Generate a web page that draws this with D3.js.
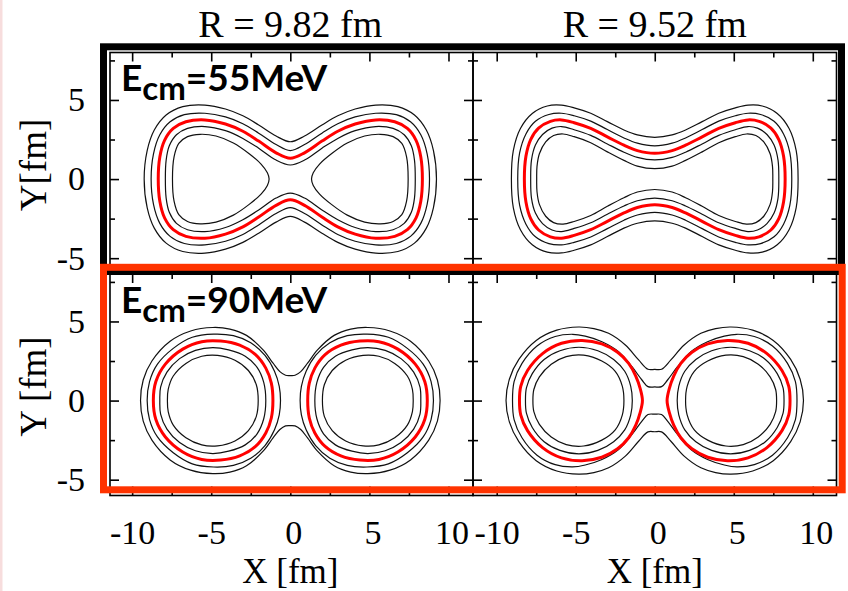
<!DOCTYPE html>
<html>
<head>
<meta charset="utf-8">
<script src="https://cdn.jsdelivr.net/npm/d3@7"></script>
<style>
  body { margin: 0; background: #fff; }
  svg { display: block; }
  .serif { font-family: "Liberation Serif", "Times New Roman", serif; }
</style>
</head>
<body>
<div id="chart"></div>
<script>

// Contour outlines, in fm, first quadrant only
// (every shape is mirror-symmetric in X and Y).
// "neck": one closed line round both nuclei, from (0, neck half-height) to (xmax, 0)
// "lobe": two separate rings, right ring from (inner x, 0) over the top to (outer x, 0)
// order of levels: outer black, black, red, black, inner black

const radii = ["R = 9.82 fm", "R = 9.52 fm"];
const energies = [55, 90];
const yTitles = ["Y[fm]", "Y [fm]"];
const xMajor = [-10, -5, 0, 5, 10];
const xMinor = [-7.5, -2.5, 2.5, 7.5];
const yMajor = [-5, 0, 5];
const yMinor = [-2.5, 2.5, 7.5];

const r982e55 = [
  { kind: "neck", pts: [[0,2.36],[0.9,2.72],[2.0,3.42],[3.0,4.0],[4.1,4.43],[5.4,4.68],[6.8,4.58],[7.85,4.05],[8.6,3.1],[9.05,1.8],[9.24,0]] },
  { kind: "neck", pts: [[0,1.8],[0.9,2.18],[2.0,2.9],[3.0,3.5],[4.1,3.93],[5.4,4.16],[6.7,4.07],[7.6,3.62],[8.25,2.8],[8.65,1.6],[8.8,0]] },
  { kind: "neck", pts: [[0,1.31],[0.9,1.66],[2.0,2.4],[3.0,3.02],[4.1,3.48],[5.4,3.74],[6.6,3.62],[7.4,3.2],[7.95,2.45],[8.25,1.4],[8.35,0]] },
  { kind: "neck", pts: [[0,0.89],[0.9,1.2],[2.0,1.95],[3.0,2.57],[4.1,3.06],[5.4,3.32],[6.5,3.2],[7.2,2.8],[7.65,2.1],[7.85,1.2],[7.9,0]] },
  { kind: "lobe", pts: [[1.34,0],[1.45,0.4],[1.85,0.95],[2.6,1.6],[3.6,2.28],[4.7,2.72],[5.7,2.83],[6.5,2.68],[7.05,2.25],[7.35,1.4],[7.45,0]] }
];

const r952e55 = [
  { kind: "neck", pts: [[0,2.64],[1.1,2.79],[1.95,3.1],[3.0,3.63],[4.05,4.16],[5.1,4.5],[5.9,4.67],[6.8,4.62],[7.75,4.15],[8.5,3.2],[8.95,1.8],[9.07,0]] },
  { kind: "neck", pts: [[0,2.1],[1.1,2.27],[1.95,2.6],[3.0,3.13],[4.05,3.66],[5.1,4.0],[5.9,4.16],[6.7,4.08],[7.55,3.65],[8.15,2.85],[8.55,1.65],[8.67,0]] },
  { kind: "neck", pts: [[0,1.63],[1.1,1.8],[1.95,2.14],[3.0,2.67],[4.05,3.2],[5.1,3.56],[5.9,3.74],[6.6,3.65],[7.35,3.22],[7.85,2.5],[8.15,1.45],[8.25,0]] },
  { kind: "neck", pts: [[0,1.21],[1.1,1.37],[1.95,1.7],[3.0,2.22],[4.05,2.76],[5.1,3.12],[5.9,3.32],[6.5,3.22],[7.1,2.82],[7.55,2.15],[7.8,1.2],[7.85,0]] },
  { kind: "neck", pts: [[0,0.66],[1.1,0.82],[1.95,1.18],[3.0,1.72],[4.05,2.3],[5.1,2.68],[5.8,2.85],[6.4,2.75],[6.9,2.35],[7.3,1.6],[7.45,0.8],[7.47,0]] }
];

const r982e90 = [
  { kind: "neck", pts: [[0,1.58],[0.3,1.6],[0.66,1.83],[1.09,2.36],[1.72,3.2],[2.77,4.12],[3.82,4.52],[4.9,4.62],[6.3,4.4],[7.6,3.75],[8.75,2.5],[9.3,1.3],[9.47,0]] },
  { kind: "lobe", pts: [[0.62,0],[0.7,0.9],[1.0,1.85],[1.6,2.85],[2.5,3.65],[3.6,4.1],[4.85,4.2],[6.2,4.0],[7.4,3.3],[8.4,2.3],[8.9,1.2],[9.05,0]] },
  { kind: "lobe", pts: [[1.1,0],[1.2,1.1],[1.55,2.05],[2.2,2.9],[3.2,3.5],[4.4,3.76],[5.6,3.72],[6.8,3.25],[7.9,2.3],[8.5,1.2],[8.66,0]] },
  { kind: "lobe", pts: [[1.55,0],[1.68,1.15],[2.1,2.1],[2.85,2.8],[3.9,3.2],[4.9,3.35],[6.0,3.17],[7.0,2.65],[7.8,1.8],[8.2,0.85],[8.25,0]] },
  { kind: "lobe", pts: [[2.03,0],[2.15,1.0],[2.65,1.9],[3.5,2.55],[4.6,2.86],[5.6,2.8],[6.6,2.35],[7.4,1.55],[7.72,0.7],[7.77,0]] }
];

const r952e90 = [
  { kind: "neck", pts: [[0,1.97],[0.43,1.98],[1.02,2.57],[1.86,3.51],[2.92,4.25],[3.85,4.55],[4.82,4.65],[6.2,4.45],[7.5,3.8],[8.6,2.6],[9.2,1.35],[9.41,0]] },
  { kind: "neck", pts: [[0,0.86],[0.43,0.88],[0.81,1.3],[1.44,2.14],[2.29,3.09],[3.34,3.72],[4.4,4.07],[5.2,4.19],[6.3,4.05],[7.45,3.45],[8.4,2.35],[8.9,1.2],[9.0,0]] },
  { kind: "lobe", pts: [[0.78,0],[0.92,0.75],[1.2,1.55],[1.65,2.35],[2.35,3.05],[3.35,3.58],[4.6,3.8],[5.9,3.62],[7.1,2.97],[8.05,1.9],[8.48,0.9],[8.56,0]] },
  { kind: "lobe", pts: [[1.42,0],[1.52,0.9],[1.9,1.85],[2.6,2.6],[3.6,3.15],[4.8,3.37],[6.0,3.15],[7.0,2.6],[7.75,1.7],[8.12,0.8],[8.18,0]] },
  { kind: "lobe", pts: [[1.95,0],[2.05,0.9],[2.5,1.85],[3.35,2.5],[4.5,2.87],[5.6,2.78],[6.55,2.3],[7.3,1.5],[7.65,0.7],[7.71,0]] }
];

const width = 848, height = 591;

const svg = d3.select("#chart").append("svg")
  .attr("width", width)
  .attr("height", height)
  .attr("viewBox", [0, 0, width, height]);

svg.append("rect").attr("width", width).attr("height", height).attr("fill", "#fff");
svg.append("rect").attr("x", 0).attr("width", 2.5).attr("height", height).attr("fill", "#f7dddd");

// Panels

const panels = [
  { row: 0, col: 0, data: r982e55 },
  { row: 0, col: 1, data: r952e55 },
  { row: 1, col: 0, data: r982e90 },
  { row: 1, col: 1, data: r952e90 }
];

const xScales = [
  d3.scaleLinear().domain([-11.4, 11.55]).range([110, 473]),
  d3.scaleLinear().domain([-11.5, 11.5]).range([473, 836.5])
];
const yScales = [
  d3.scaleLinear().domain([-6, 8]).range([274, 52.5]),
  d3.scaleLinear().domain([-6, 8]).range([495.5, 274])
];

// mirror a first-quadrant outline into full closed rings
function rings(c) {
  const q = c.pts;
  if (c.kind === "neck") {
    const lr = q.slice(0, -1).reverse().map(([x, y]) => [x, -y]);
    const ll = q.slice(1).map(([x, y]) => [-x, -y]);
    const ul = q.slice(1, -1).reverse().map(([x, y]) => [-x, y]);
    return [q.concat(lr, ll, ul)];
  }
  const right = q.concat(q.slice(1, -1).reverse().map(([x, y]) => [x, -y]));
  return [right, right.map(([x, y]) => [-x, y])];
}

panels.forEach(p => {

  const x = xScales[p.col];
  const y = yScales[p.row];
  const g = svg.append("g");

  const line = d3.line()
    .x(d => x(d[0]))
    .y(d => y(d[1]))
    .curve(d3.curveCatmullRomClosed.alpha(0.5));

  p.data.forEach((c, i) => {
    const isRed = i === 2;
    g.append("g")
      .selectAll("path")
      .data(rings(c))
      .join("path")
      .attr("d", line)
      .attr("fill", "none")
      .attr("stroke", isRed ? "#ff0000" : "#111")
      .attr("stroke-width", isRed ? 3 : 1.2);
  });

  // frame
  g.append("rect")
    .attr("x", x.range()[0])
    .attr("y", y.range()[1])
    .attr("width", x.range()[1] - x.range()[0])
    .attr("height", y.range()[0] - y.range()[1])
    .attr("fill", "none")
    .attr("stroke", "#000")
    .attr("stroke-width", 1.6);

  const showX = p.row === 1;
  const showY = p.col === 0;

  const addAxis = (axis, transform) => {
    return g.append("g")
      .attr("transform", transform)
      .call(axis)
      .call(a => a.select(".domain").remove())
      .call(a => a.selectAll(".tick line").attr("stroke", "#000").attr("stroke-width", 1.6))
      .call(a => a.selectAll(".tick text")
        .attr("class", "serif")
        .attr("font-size", 34)
        .attr("fill", "#000"));
  };

  const bottom = `translate(0,${y.range()[0]})`;
  const top = `translate(0,${y.range()[1]})`;
  const left = `translate(${x.range()[0]},0)`;
  const right = `translate(${x.range()[1]},0)`;

  addAxis(d3.axisBottom(x).tickValues(xMajor).tickSizeInner(-9).tickSizeOuter(0)
    .tickPadding(24).tickFormat(d => showX ? String(d) : ""), bottom)
    .selectAll(".tick text").attr("dx", d => d >= 0 ? 3 : 0);
  addAxis(d3.axisBottom(x).tickValues(xMinor).tickSizeInner(-5).tickSizeOuter(0).tickFormat(""), bottom);
  addAxis(d3.axisTop(x).tickValues(xMajor).tickSizeInner(-9).tickSizeOuter(0).tickFormat(""), top);
  addAxis(d3.axisTop(x).tickValues(xMinor).tickSizeInner(-5).tickSizeOuter(0).tickFormat(""), top);

  addAxis(d3.axisLeft(y).tickValues(yMajor).tickSizeInner(-9).tickSizeOuter(0)
    .tickPadding(25).tickFormat(d => showY ? String(d) : ""), left);
  addAxis(d3.axisLeft(y).tickValues(yMinor).tickSizeInner(-5).tickSizeOuter(0).tickFormat(""), left);
  addAxis(d3.axisRight(y).tickValues(yMajor).tickSizeInner(-9).tickSizeOuter(0).tickFormat(""), right);
  addAxis(d3.axisRight(y).tickValues(yMinor).tickSizeInner(-5).tickSizeOuter(0).tickFormat(""), right);
});

// Titles

radii.forEach((t, i) => {
  svg.append("text")
    .attr("class", "serif")
    .attr("x", xScales[i](0))
    .attr("y", 36.5)
    .attr("text-anchor", "middle")
    .attr("font-size", 38)
    .text(t);

  svg.append("text")
    .attr("class", "serif")
    .attr("x", xScales[i](0))
    .attr("y", 583)
    .attr("text-anchor", "middle")
    .attr("font-size", 35)
    .text("X [fm]");
});

yTitles.forEach((t, i) => {
  const cy = i === 0 ? 165 : 386.5;
  svg.append("text")
    .attr("class", "serif")
    .attr("transform", `translate(46,${cy}) rotate(-90)`)
    .attr("text-anchor", "middle")
    .attr("font-size", 37)
    .text(t);
});

energies.forEach((e, i) => {
  const t = svg.append("text")
    .attr("x", 121)
    .attr("y", i === 0 ? 90.5 : 313)
    .attr("font-family", "Lato, 'Open Sans', sans-serif")
    .attr("font-weight", 700)
    .attr("font-size", 37)
    .attr("fill", "#000");
  t.append("tspan").text("E");
  t.append("tspan").attr("dy", 9).attr("font-size", 33).text("cm");
  t.append("tspan").attr("dy", -9).text(`=${e}MeV`);
});

// Row borders

svg.append("rect")
  .attr("x", 103.5).attr("y", 46.8)
  .attr("width", 841.5 - 103.5).attr("height", 271.5 - 46.8)
  .attr("fill", "none")
  .attr("stroke", "#000")
  .attr("stroke-width", 7);

svg.append("rect")
  .attr("x", 103.5).attr("y", 267.3)
  .attr("width", 842.2 - 103.5).attr("height", 489.8 - 267.3)
  .attr("fill", "none")
  .attr("stroke", "#ff3300")
  .attr("stroke-width", 7);

</script>
</body>
</html>
